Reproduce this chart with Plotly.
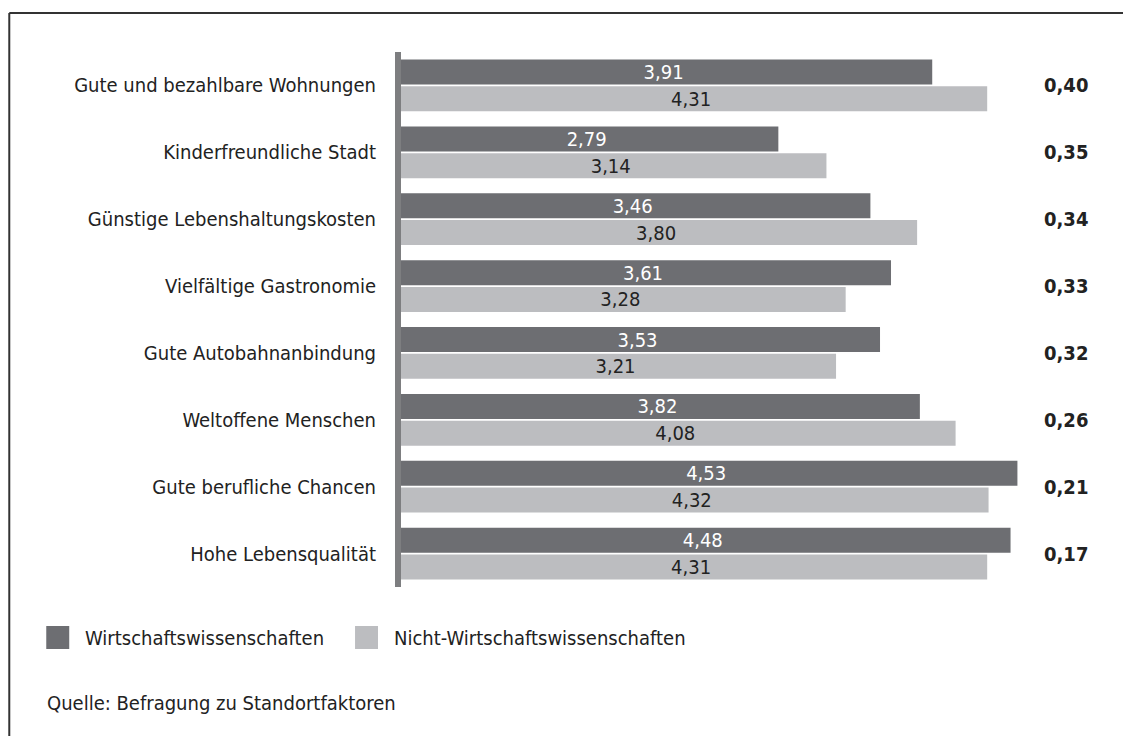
import plotly.graph_objects as go

# Standortfaktoren, Mittelwerte je Gruppe
categories = [
    "Gute und bezahlbare Wohnungen",
    "Kinderfreundliche Stadt",
    "Günstige Lebenshaltungskosten",
    "Vielfältige Gastronomie",
    "Gute Autobahnanbindung",
    "Weltoffene Menschen",
    "Gute berufliche Chancen",
    "Hohe Lebensqualität",
]
wiwi = [3.91, 2.79, 3.46, 3.61, 3.53, 3.82, 4.53, 4.48]
nicht_wiwi = [4.31, 3.14, 3.80, 3.28, 3.21, 4.08, 4.32, 4.31]
differenz = [0.40, 0.35, 0.34, 0.33, 0.32, 0.26, 0.21, 0.17]

series_names = ["Wirtschaftswissenschaften", "Nicht-Wirtschaftswissenschaften"]
source_text = "Quelle: Befragung zu Standortfaktoren"

DARK = "#6d6e72"
LIGHT = "#bcbdc0"
TXT = "#222222"
FONT = "Liberation Sans Narrow, DejaVu Sans Condensed, Lato, sans-serif"
FS = 20

# the page puts the figure 8px in from the top left corner
OFF = 8
W, H = 1131, 736
L, T, R, B = 387, 44, 56.5, 157
PW, PH = W - L - R, H - T - B


def px(x):
    # screen x -> paper
    return (x - OFF - L) / PW


def py(y):
    # screen y -> paper
    return (H - B - (y - OFF)) / PH


def de(v):
    return f"{v:.2f}".replace(".", ",")


fig = go.Figure()
fig.add_trace(go.Bar(
    y=categories, x=wiwi, orientation="h", name=series_names[0],
    marker=dict(color=DARK, line=dict(width=0)),
    text=[de(v) for v in wiwi], textposition="inside", insidetextanchor="middle",
    textfont=dict(color="white", size=FS, family=FONT), textangle=0, constraintext="none",
))
fig.add_trace(go.Bar(
    y=categories, x=nicht_wiwi, orientation="h", name=series_names[1],
    marker=dict(color=LIGHT, line=dict(width=0)),
    text=[de(v) for v in nicht_wiwi], textposition="inside", insidetextanchor="middle",
    textfont=dict(color=TXT, size=FS, family=FONT), textangle=0, constraintext="none",
))

# Differenzen rechts, fett
for cat, d in zip(categories, differenz):
    fig.add_annotation(x=px(1066), xref="paper", y=cat, yref="y", text=f"<b>{de(d)}</b>",
                       showarrow=False, xanchor="center", font=dict(size=FS, color=TXT))

# Achsenlinie
fig.add_shape(type="rect", xref="x", xsizemode="pixel", xanchor=0, x0=0, x1=6,
              yref="paper", y0=0, y1=1, fillcolor="#7d7e80", line=dict(width=0), layer="above")

# Rahmen oben und links
fig.add_shape(type="line", xref="paper", yref="paper", x0=px(9), x1=px(1145), y0=py(13), y1=py(13),
              line=dict(color="#333333", width=2))
fig.add_shape(type="line", xref="paper", yref="paper", x0=px(9), x1=px(9), y0=py(13), y1=py(760),
              line=dict(color="#333333", width=2))

# Legende
for name, col, sx in zip(series_names, [DARK, LIGHT], [46, 355]):
    fig.add_shape(type="rect", xref="paper", yref="paper", x0=px(sx), x1=px(sx + 23),
                  y0=py(626), y1=py(649), fillcolor=col, line=dict(width=0))
    fig.add_annotation(x=px(sx + 37), y=py(637.5), xref="paper", yref="paper", text=name,
                       showarrow=False, xanchor="left", yanchor="middle",
                       font=dict(size=FS, color=TXT))

fig.add_annotation(x=px(45), y=py(703), xref="paper", yref="paper", text=source_text,
                   showarrow=False, xanchor="left", yanchor="middle",
                   font=dict(size=FS, color=TXT))

fig.update_layout(
    width=W, height=H,
    margin=dict(l=L, r=R, t=T, b=B, pad=0),
    paper_bgcolor="white", plot_bgcolor="white",
    font=dict(family=FONT, size=FS, color=TXT),
    barmode="group", bargap=0.2, bargroupgap=0.07,
    showlegend=False,
    xaxis=dict(range=[0, 5], visible=False, fixedrange=True),
    yaxis=dict(autorange="reversed", showgrid=False, zeroline=False, showline=False,
               ticks="", ticklabelstandoff=18, tickfont=dict(size=FS, color=TXT)),
)

fig.write_html("out.html")
